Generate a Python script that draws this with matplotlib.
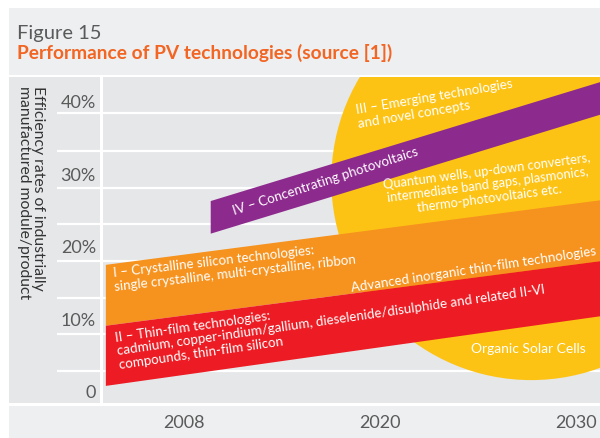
import matplotlib.pyplot as plt
from matplotlib.patches import Polygon, Ellipse, Rectangle

plt.rcParams['font.family'] = ['Lato', 'DejaVu Sans']

# axis labels
years = ['2008', '2020', '2030']
eff_ticks = [0, 10, 20, 30, 40]
eff_labels = ['0', '10%', '20%', '30%', '40%']
grid_levels = [2.9, 7.9, 12.9, 18.0, 23.1, 28.1, 33.2, 38.4]

# technology bands: x range (tick index), lower and upper efficiency at both ends
band_x = [-0.40, 2.121]
crystalline_low = [9.1, 18.0]
crystalline_high = [17.5, 26.4]
thinfilm_low = [0.8, 10.4]
thinfilm_high = crystalline_low
concentrating_x = [0.135, 2.121]
concentrating_low = [21.8, 38.2]
concentrating_high = [26.3, 42.7]
# emerging technologies blob (centre, width, height in data units)
emerging_centre = (1.77, 29.2)
emerging_w, emerging_h = 2.04, 55.2

W, H = 600, 438
fig = plt.figure(figsize=(6, 4.38), dpi=100, facecolor='white')


def frect(x0, y0, x1, y1, color):
    # rectangle in figure pixels (y from top)
    fig.add_artist(Rectangle((x0 / W, 1 - y1 / H), (x1 - x0) / W, (y1 - y0) / H,
                             transform=fig.transFigure, color=color, lw=0, zorder=-5))


frect(9, 8.3, 600, 74.5, '#eeeff1')
frect(9, 77.3, 100.5, 403.3, '#e6e7e9')
frect(9, 406, 600, 438, '#eeeff1')

fig.text(17 / W, 1 - 39.5 / H, 'Figure 15', fontsize=14.5,
         color='#5a5a5a', va='baseline')
fig.text(17 / W, 1 - 58.5 / H, 'Performance of PV technologies (source [1])',
         fontsize=13.8, fontweight='bold', color='#f26522', va='baseline')
fig.text(31 / W, 1 - 86 / H,
         'Efficiency rates of industrially\nmanufactured module/product',
         rotation=270, ha='center', va='top', multialignment='left',
         fontsize=11.3, color='#333333', linespacing=1.05)

ax = fig.add_axes([103.5 / W, 1 - 403.3 / H, (W - 103.5) / W, (403.3 - 77.3) / H])
ax.set_facecolor('#e6e7e9')
ax.set_xlim(-0.412, 2.121)
ax.set_ylim(-1.6, 43.37)
for s in ax.spines.values():
    s.set_visible(False)

ax.set_xticks(range(len(years)), years)
ax.set_yticks(eff_ticks, eff_labels)
ax.set_yticks(grid_levels, minor=True)
ax.tick_params(axis='both', which='major', length=0, labelsize=13, labelcolor='#5a5a5a')
ax.tick_params(axis='x', pad=8.5)
ax.tick_params(axis='y', pad=5.5)
ax.tick_params(axis='y', which='minor', length=33, width=1.6, color='white', direction='out')
ax.grid(which='minor', axis='y', color='white', lw=1.6)
ax.set_axisbelow(True)

ax.add_patch(Ellipse(emerging_centre, emerging_w, emerging_h, color='#fdc314', lw=0, zorder=1))


def band(xs, low, high, color):
    pts = [(xs[0], low[0]), (xs[1], low[1]), (xs[1], high[1]), (xs[0], high[0])]
    ax.add_patch(Polygon(pts, closed=True, color=color, lw=0, zorder=2))


band(concentrating_x, concentrating_low, concentrating_high, '#8d2a8e')
band(band_x, crystalline_low, crystalline_high, '#f6921e')
band(band_x, thinfilm_low, thinfilm_high, '#ed1c24')

txt = dict(color='white', fontsize=9.6, rotation_mode='anchor', zorder=5, linespacing=1.2)
ax.text(0.881, 37.9, 'III – Emerging technologies\nand novel concepts',
        rotation=9.6, ha='left', va='center', **txt)
ax.text(0.718, 29.06, 'IV – Concentrating photovoltaics',
        rotation=18, ha='center', va='center', **txt)
ax.text(1.55, 28.5, 'Quantum wells, up-down converters,\nintermediate band gaps, plasmonics,\nthermo-photovoltaics etc.',
        rotation=7.5, ha='center', va='center', multialignment='center',
        **{**txt, 'fontsize': 9.3})
ax.text(1.475, 16.9, 'Advanced inorganic thin-film technologies',
        rotation=8.6, ha='center', va='center', **txt)
ax.text(-0.359, 15.4, 'I – Crystalline silicon technologies:\nsingle crystalline, multi-crystalline, ribbon',
        rotation=6.5, ha='left', va='center', **txt)
ax.text(-0.341, 5.54, 'II – Thin-film technologies:\ncadmium, copper-indium/gallium, dieselenide/disulphide and related II-VI\ncompounds, thin-film silicon',
        rotation=8.2, ha='left', va='center', **txt)
ax.text(1.754, 5.89, 'Organic Solar Cells', ha='center', va='center',
        **{**txt, 'fontsize': 10})

fig.savefig('out.png', dpi=100, facecolor='white')
